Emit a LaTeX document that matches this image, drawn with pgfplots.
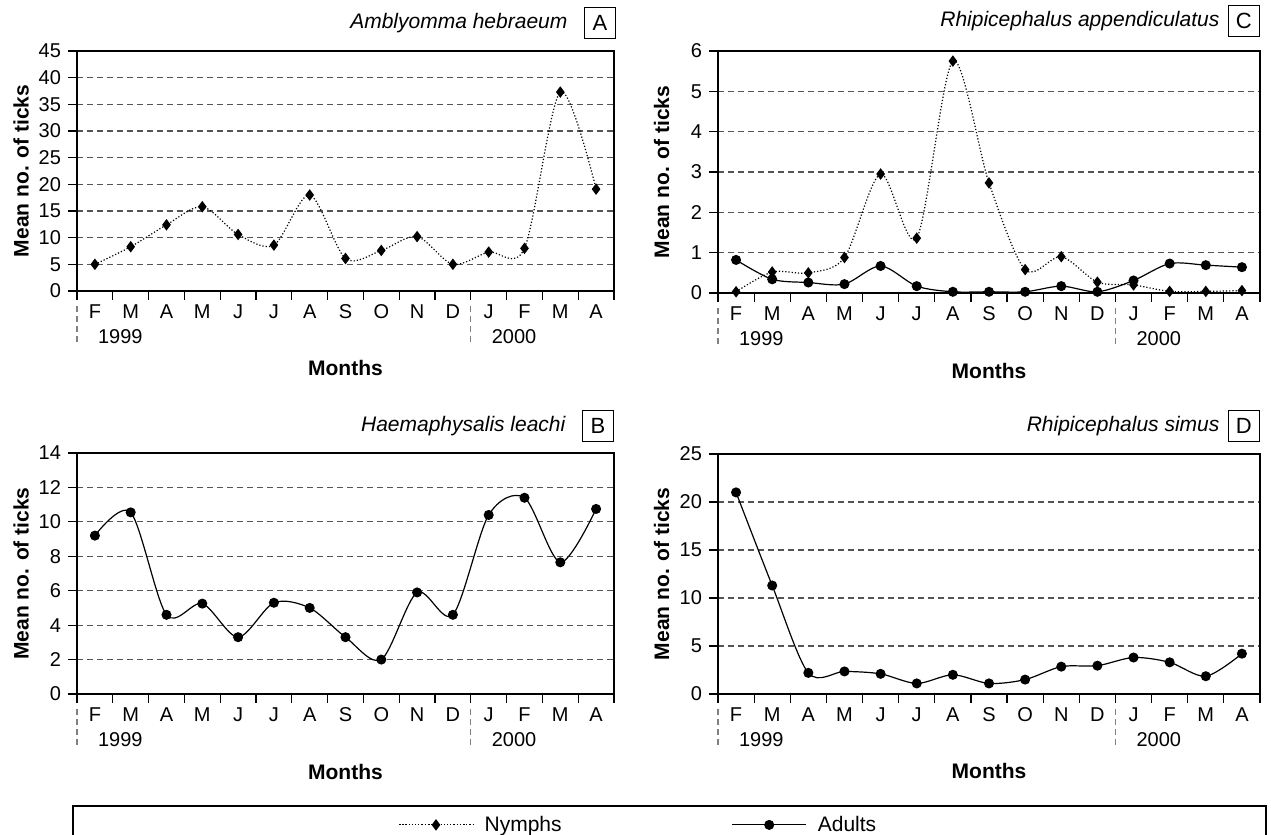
\documentclass[border=0pt]{standalone}
\usepackage{fontspec}
\setmainfont{Liberation Sans}
\usepackage{pgfplots}
\pgfplotsset{compat=1.18}
\definecolor{gridc}{gray}{0.33}
\newcommand{\ticksz}{\fontsize{10}{12}\selectfont}
\newcommand{\labsz}{\fontsize{10.5}{12.5}\selectfont}
\newcommand{\years}{%
  \node[anchor=base west, font=\ticksz] at ([xshift=7pt,yshift=-26.5pt]rel axis cs:0,0) {1999};
  \node[anchor=base west, font=\ticksz] at ([xshift=7pt,yshift=-26.5pt]rel axis cs:0.733333,0) {2000};
  \draw[gray, line width=0.6pt, dash pattern=on 3pt off 2pt] ([yshift=-7.5pt]rel axis cs:0,0) -- ([yshift=-26.5pt]rel axis cs:0,0);
  \draw[gray, line width=0.6pt, dash pattern=on 3pt off 2pt] ([yshift=-7.5pt]rel axis cs:0.733333,0) -- ([yshift=-26.5pt]rel axis cs:0.733333,0);
}
% #1 letter, #2 title, #3 gap title-box, #4 box gap above axis, #5 xshift of box
\newcommand{\ptitle}[5]{%
  \node[draw=black, line width=0.6pt, anchor=south east, minimum width=15.5pt, minimum height=15.5pt, inner sep=0pt, font=\fontsize{11}{13}\selectfont] (box#1) at ([xshift=#5,yshift=#4]rel axis cs:1,1) {#1};
  \node[anchor=east, inner sep=0pt, font=\labsz\itshape] at ([xshift=-#3]box#1.west) {#2};
}
\pgfplotsset{
  panel/.style={
    scale only axis, clip mode=individual,
    xmin=-0.5, xmax=14.5, ymin=0,
    xtick={0,...,14},
    xticklabels={F,M,A,M,J,J,A,S,O,N,D,J,F,M,A},
    minor xtick={-0.5,0.5,...,14.5},
    major x tick style={draw=none},
    minor x tick style={black, line width=0.6pt},
    minor tick length=4.5pt,
    major tick length=4.5pt,
    tick align=outside,
    xtick pos=bottom, ytick pos=left,
    y tick style={black, line width=0.6pt},
    ymajorgrids,
    major grid style={gridc, line width=0.6pt, dash pattern=on 3.2pt off 1.8pt},
    axis line style={black, line width=0.6pt},
    tick label style={font=\ticksz},
    /pgf/number format/assume math mode=true,
    xticklabel style={anchor=base, yshift=-9.35pt},
    xlabel={Months}, ylabel={Mean no. of ticks},
    every axis x label/.style={at={(axis description cs:0.5,-0.322)}, anchor=center, font=\labsz\bfseries},
    every axis y label/.style={at={(axis description cs:-0.104,0.5)}, anchor=center, rotate=90, font=\labsz\bfseries},
  },
  nymph/.style={black, densely dotted, line width=0.6pt, smooth, mark=diamond*, mark size=2.4pt, mark options={solid, fill=black}},
  adult/.style={black, line width=0.6pt, smooth, mark=*, mark size=2.2pt, mark options={solid, fill=black}},
}
\begin{document}
\begin{tikzpicture}
\useasboundingbox (0,0) rectangle (635.5pt,417.5pt);
% Panel A
\begin{axis}[panel, at={(38.5pt,272pt)}, anchor=south west, width=268.5pt, height=120pt, ymax=45, ytick={0,5,...,45}]
\addplot[nymph] coordinates {(0,5.0) (1,8.3) (2,12.4) (3,15.8) (4,10.6) (5,8.6) (6,18.0) (7,6.1) (8,7.6) (9,10.2) (10,5.0) (11,7.3) (12,8.0) (13,37.3) (14,19.1)};
\ptitle{A}{Amblyomma hebraeum}{8pt}{6pt}{1pt}
\years
\end{axis}
% Panel C
\begin{axis}[panel, at={(359pt,271pt)}, anchor=south west, width=271pt, height=121pt, ymax=6, ytick={0,1,...,6},
  legend style={at={(axis description cs:-0.5904,-2.198)}, anchor=west, draw=none, fill=none, inner sep=0pt, legend columns=2, font=\labsz, column sep=5.5pt, nodes={inner sep=0pt}, /tikz/every even column/.append style={column sep=85pt}},
  legend image code/.code={\draw[mark repeat=2,mark phase=2,#1] plot coordinates {(0pt,0pt) (18.5pt,0pt) (37pt,0pt)};}]
\addplot[nymph] coordinates {(0,0.03) (1,0.52) (2,0.50) (3,0.88) (4,2.95) (5,1.36) (6,5.75) (7,2.73) (8,0.58) (9,0.90) (10,0.27) (11,0.20) (12,0.04) (13,0.04) (14,0.06)};
\addplot[adult] coordinates {(0,0.82) (1,0.34) (2,0.26) (3,0.22) (4,0.67) (5,0.17) (6,0.03) (7,0.03) (8,0.03) (9,0.17) (10,0.03) (11,0.31) (12,0.73) (13,0.69) (14,0.64)};
\legend{Nymphs,Adults}
\ptitle{C}{Rhipicephalus appendiculatus}{4pt}{7pt}{0pt}
\years
\end{axis}
% Panel B
\begin{axis}[panel, at={(38.5pt,70.5pt)}, anchor=south west, width=268.5pt, height=120.5pt, ymax=14, ytick={0,2,...,14}]
\addplot[adult] coordinates {(0,9.2) (1,10.55) (2,4.6) (3,5.25) (4,3.3) (5,5.3) (6,5.0) (7,3.3) (8,2.0) (9,5.9) (10,4.6) (11,10.4) (12,11.4) (13,7.65) (14,10.75)};
\ptitle{B}{Haemaphysalis leachi}{8pt}{5.5pt}{0pt}
\years
\end{axis}
% Panel D
\begin{axis}[panel, at={(359pt,70.5pt)}, anchor=south west, width=271pt, height=120pt, ymax=25, ytick={0,5,...,25}]
\addplot[adult] coordinates {(0,21.0) (1,11.3) (2,2.2) (3,2.35) (4,2.1) (5,1.1) (6,2.0) (7,1.1) (8,1.5) (9,2.85) (10,2.95) (11,3.8) (12,3.3) (13,1.85) (14,4.2)};
\ptitle{D}{Rhipicephalus simus}{4pt}{6pt}{0pt}
\years
\end{axis}
% legend frame
\draw[black, line width=0.6pt] (36.5pt,-10pt) -- (36.5pt,14.5pt) -- (633pt,14.5pt) -- (633pt,-10pt);
\end{tikzpicture}
\end{document}
